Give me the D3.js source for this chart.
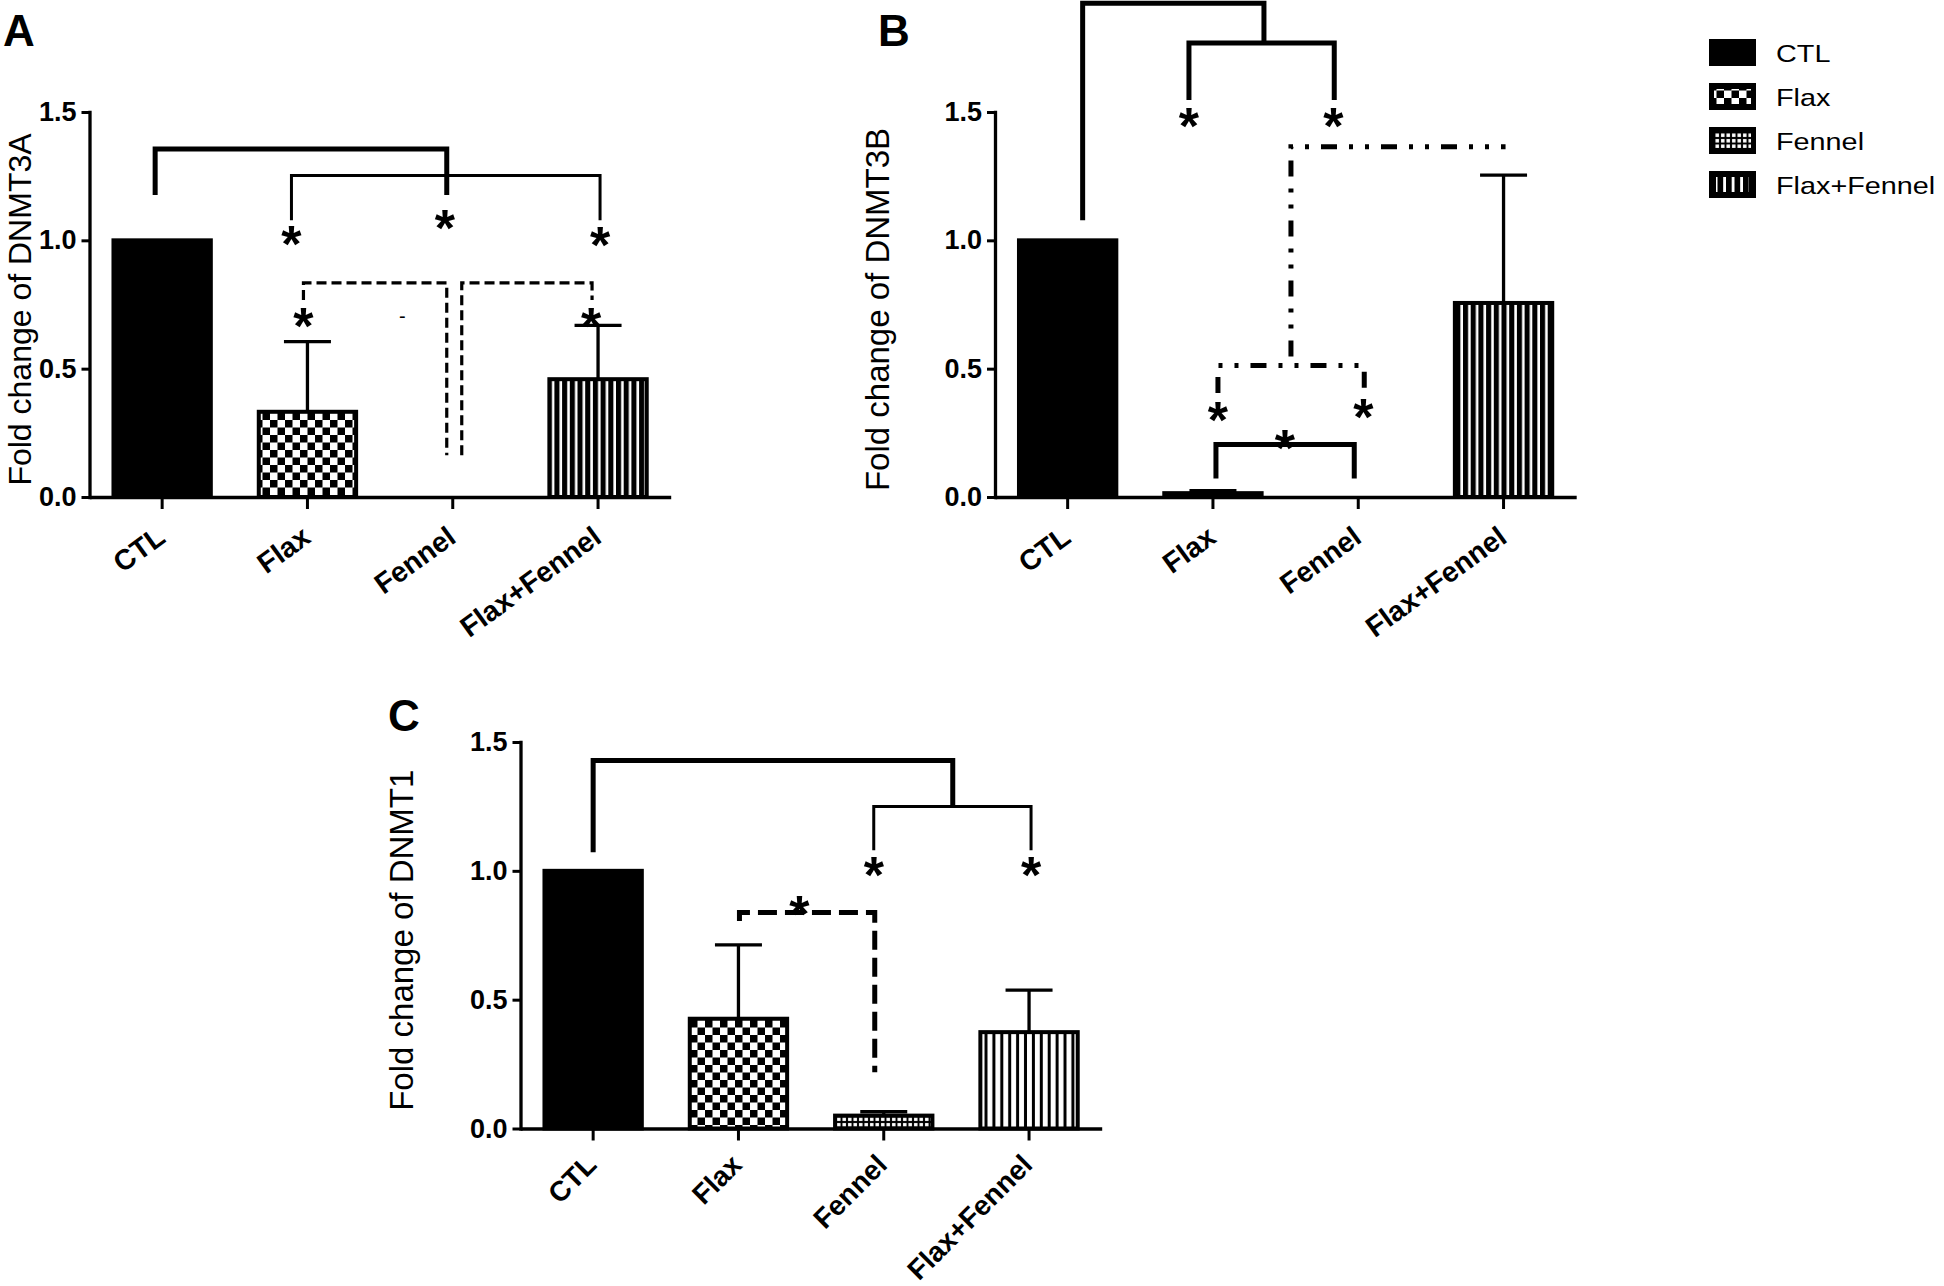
<!DOCTYPE html>
<html><head><meta charset="utf-8">
<script src="https://cdn.jsdelivr.net/npm/d3@7"></script>
<style>
body{margin:0;background:#fff}
svg{display:block}
text{font-family:"Liberation Sans",Arial,Helvetica,sans-serif;fill:#000}
</style>
</head><body>
<svg id="chart" width="1944" height="1286"></svg>
<script>
// ---------------- data ----------------
const categories = ["CTL", "Flax", "Fennel", "Flax+Fennel"];
const tickValues = [0, 0.5, 1.0, 1.5];
const tickLabels = ["0.0", "0.5", "1.0", "1.5"];
const legendLabels = ["CTL", "Flax", "Fennel", "Flax+Fennel"];

const dnmt3aMean = [1.0, 0.332, 0, 0.459];
const dnmt3aErr  = [0, 0.273, 0, 0.21];
const dnmt3bMean = [1.0, 0.015, 0, 0.756];
const dnmt3bErr  = [0, 0.01, 0, 0.498];
const dnmt1Mean  = [1.0, 0.426, 0.05, 0.374];
const dnmt1Err   = [0, 0.287, 0.015, 0.163];

// significance annotations: [category index, pixel nudge, value]
const bracketsA = [
  {pts: [[0,-7,1.177],[0,-7,1.356],[2,-6,1.356],[2,-6,1.177]], kind: "thick"},
  {pts: [[1,-16,1.078],[1,-16,1.253],[3,2,1.253],[3,2,1.078]], kind: "thin"},
  {pts: [[1,-4,0.768],[1,-4,0.834],[2,-6,0.834],[2,-6,0.163]], kind: "dashA"},
  {pts: [[2,9,0.163],[2,9,0.834],[3,-6,0.834],[3,-6,0.768]], kind: "dashA"}
];
const starsA = [[1,-16,1.033],[2,-8,1.094],[3,2,1.027],[1,-4,0.712],[3,-7,0.712]];
const marksA = [[1,95,0.704,"-"]];

const bracketsB = [
  {pts: [[0,15,1.078],[0,15,1.924],[1,51,1.924],[1,51,1.769]], kind: "thick"},
  {pts: [[1,-24,1.547],[1,-24,1.769],[2,-24,1.769],[2,-24,1.547]], kind: "thick"},
  {pts: [[1,78,0.547],[1,78,1.365],[3,2,1.365]], kind: "dashdot"},
  {pts: [[1,5,0.405],[1,5,0.512],[2,6,0.512],[2,6,0.405]], kind: "dashdot"},
  {pts: [[1,3,0.072],[1,3,0.205],[2,-4,0.205],[2,-4,0.072]], kind: "thick"}
];
const starsB = [[1,-24,1.491],[2,-25,1.491],[1,5,0.347],[2,5,0.358],[1,72,0.235]];

const bracketsC = [
  {pts: [[0,0,1.072],[0,0,1.4286],[2,69,1.4286],[2,69,1.25]], kind: "thick"},
  {pts: [[2,-10,1.08],[2,-10,1.25],[3,2,1.25],[3,2,1.08]], kind: "thin"},
  {pts: [[1,1,0.805],[1,1,0.838],[2,-9,0.838],[2,-9,0.218]], kind: "dashC"}
];
const starsC = [[2,-10,1.028],[3,2,1.028],[1,61,0.879]];

// ---------------- styles ----------------
const lineKinds = {
  thick:   {w: 5,   dash: null},
  thin:    {w: 3,   dash: null},
  dashA:   {w: 3.2, dash: "10,5"},
  dashC:   {w: 5,   dash: "19,8"},
  dashdot: {w: 5,   dash: "16,12,4,12,4,12"}
};

const svg = d3.select("#chart");
svg.append("rect").attr("width",1944).attr("height",1286).attr("fill","#fff");
const defs = svg.append("defs");

// checker (Flax)
const pFlax = defs.append("pattern").attr("id","flax").attr("patternUnits","userSpaceOnUse")
  .attr("width",15).attr("height",15);
pFlax.append("rect").attr("width",15).attr("height",15).attr("fill","#fff");
pFlax.append("rect").attr("width",7.5).attr("height",7.5).attr("fill","#000");
pFlax.append("rect").attr("x",7.5).attr("y",7.5).attr("width",7.5).attr("height",7.5).attr("fill","#000");
// fine grid of white squares (Fennel)
const pFen = defs.append("pattern").attr("id","fennel").attr("patternUnits","userSpaceOnUse")
  .attr("width",5.5).attr("height",5.5);
pFen.append("rect").attr("width",5.5).attr("height",5.5).attr("fill","#000");
pFen.append("rect").attr("x",1).attr("y",1).attr("width",3.5).attr("height",3.5).attr("fill","#fff");
// vertical stripes (Flax+Fennel)
function stripes(id, period, white, bgBlack) {
  const p = defs.append("pattern").attr("id",id).attr("patternUnits","userSpaceOnUse")
    .attr("width",period).attr("height",10);
  p.append("rect").attr("width",period).attr("height",10).attr("fill", bgBlack ? "#000" : "#fff");
  p.append("rect").attr("x",period-white).attr("width",white).attr("height",10).attr("fill", bgBlack ? "#fff" : "#000");
}
stripes("ffDark", 7.7, 2.6, true);
stripes("ffLight", 7.9, 3.0, false);
stripes("ffLegend", 8.5, 2.8, true);

const STEP = 145.3;
const STAR_SIZE = 52;

function addPanel(p) {
  const g = svg.append("g");
  const x = d3.scaleBand().domain(categories)
    .range([p.x0, p.x0 + 4 * STEP]).paddingInner(0.33).paddingOuter(0.165);
  const y = d3.scaleLinear().domain([0, 1.5]).range([p.y0, p.yTop]);
  const cx = (i, dx) => x(categories[i]) + x.bandwidth() / 2 + (dx || 0);
  const fills = ["#000", "url(#flax)", "url(#fennel)", `url(#${p.ff})`];

  const rows = p.mean.map((v, i) => ({v, e: p.err[i], i}));

  // bars
  g.append("g").selectAll("rect").data(rows.filter(d => d.v > 0)).join("rect")
    .attr("x", d => x(categories[d.i]))
    .attr("y", d => y(d.v))
    .attr("width", x.bandwidth())
    .attr("height", d => y(0) - y(d.v))
    .attr("fill", d => fills[d.i])
    .attr("stroke", "#000").attr("stroke-width", 4);

  // error bars (upper only)
  const eb = g.append("g").selectAll("g").data(rows.filter(d => d.e > 0)).join("g");
  eb.append("line")
    .attr("x1", d => cx(d.i)).attr("x2", d => cx(d.i))
    .attr("y1", d => y(d.v)).attr("y2", d => y(d.v + d.e))
    .attr("stroke", "#000").attr("stroke-width", 3.3);
  eb.append("line")
    .attr("x1", d => cx(d.i) - 23.5).attr("x2", d => cx(d.i) + 23.5)
    .attr("y1", d => y(d.v + d.e)).attr("y2", d => y(d.v + d.e))
    .attr("stroke", "#000").attr("stroke-width", 3.3);

  // y axis
  const ya = g.append("g").attr("transform", `translate(${p.x0},0)`)
    .call(d3.axisLeft(y).tickValues(tickValues).tickFormat((d, i) => tickLabels[i])
      .tickSize(8).tickSizeOuter(0).tickPadding(5));
  ya.select(".domain").attr("stroke-width", 3.3).attr("stroke-linecap", "square");
  ya.selectAll(".tick line").attr("stroke-width", 3);
  ya.selectAll(".tick text").style("font-size", "27px").style("font-weight", "bold")
    .style("font-family", '"Liberation Sans",Arial,sans-serif').attr("fill", "#000");

  // x axis
  const xa = g.append("g").attr("transform", `translate(0,${p.y0})`)
    .call(d3.axisBottom(x).tickSize(12).tickSizeOuter(0).tickFormat(""));
  xa.select(".domain").attr("stroke-width", 3.3);
  xa.selectAll(".tick line").attr("stroke-width", 3);
  g.append("g").selectAll("text").data(categories).join("text")
    .attr("transform", d => `translate(${x(d) + x.bandwidth() / 2 + 5},${p.y0 + p.labelDy}) rotate(${p.angle})`)
    .attr("text-anchor", "end")
    .style("font-size", p.labelSize + "px").style("font-weight", "bold")
    .text(d => d);

  // axis title
  g.append("text")
    .attr("transform", `translate(${p.titleX},${(y(0) + y(1.5)) / 2 + 5}) rotate(-90)`)
    .attr("text-anchor", "middle").style("font-size", p.titleSize + "px")
    .text(p.title);

  // panel letter
  g.append("text").attr("x", p.labelX).attr("y", p.labelY)
    .style("font-size", "44px").style("font-weight", "bold").text(p.label);

  // brackets
  const line = d3.line().x(d => cx(d[0], d[1])).y(d => y(d[2]));
  g.append("g").selectAll("path").data(p.brackets).join("path")
    .attr("d", d => line(d.pts))
    .attr("fill", "none").attr("stroke", "#000")
    .attr("stroke-width", d => lineKinds[d.kind].w)
    .attr("stroke-dasharray", d => lineKinds[d.kind].dash)
    .attr("stroke-linejoin", "miter");

  // stars
  g.append("g").selectAll("text").data(p.stars).join("text")
    .attr("x", d => cx(d[0], d[1])).attr("y", d => y(d[2]) + STAR_SIZE * 0.57)
    .attr("text-anchor", "middle").style("font-size", STAR_SIZE + "px")
    .style("font-weight", "bold")
    .text("*");
  g.append("g").selectAll("text").data(p.marks || []).join("text")
    .attr("x", d => cx(d[0], d[1])).attr("y", d => y(d[2]) + 7)
    .attr("text-anchor", "middle").style("font-size", "20px")
    .text(d => d[3]);
}

addPanel({label: "A", labelX: 3, labelY: 46, title: "Fold change of DNMT3A", titleX: 31, titleSize: 32,
  x0: 89.5, y0: 497, yTop: 112, mean: dnmt3aMean, err: dnmt3aErr, ff: "ffDark",
  angle: -36, labelSize: 28.5, labelDy: 44,
  brackets: bracketsA, stars: starsA, marks: marksA});
addPanel({label: "B", labelX: 878, labelY: 46, title: "Fold change of DNMT3B", titleX: 889, titleSize: 33,
  x0: 995, y0: 497, yTop: 112, mean: dnmt3bMean, err: dnmt3bErr, ff: "ffDark",
  angle: -36, labelSize: 28.5, labelDy: 44,
  brackets: bracketsB, stars: starsB});
addPanel({label: "C", labelX: 388, labelY: 731, title: "Fold change of DNMT1", titleX: 413, titleSize: 33,
  x0: 520.5, y0: 1128.5, yTop: 742, mean: dnmt1Mean, err: dnmt1Err, ff: "ffLight",
  angle: -45, labelSize: 28, labelDy: 38,
  brackets: bracketsC, stars: starsC});

// legend
const lg = svg.append("g");
const ly = d3.scalePoint().domain(legendLabels).range([39, 39 + 3 * 44]);
const legendFill = ["#000", "url(#flax)", "url(#fennel)", "url(#ffLegend)"];
const items = lg.selectAll("g").data(legendLabels).join("g")
  .attr("transform", d => `translate(1709,${ly(d)})`);
items.append("rect").attr("width", 47).attr("height", 27).attr("fill", "#000");
items.filter((d, i) => i > 0).append("rect")
  .attr("x", (d, i) => i === 2 ? 7 : 5).attr("y", 6)
  .attr("width", (d, i) => i === 2 ? 33 : 37).attr("height", 15)
  .attr("fill", (d) => legendFill[legendLabels.indexOf(d)]);
items.append("text")
  .attr("transform", "translate(67,22.7) scale(1.2,1)")
  .style("font-size", "24px").text(d => d);
</script>
</body></html>
